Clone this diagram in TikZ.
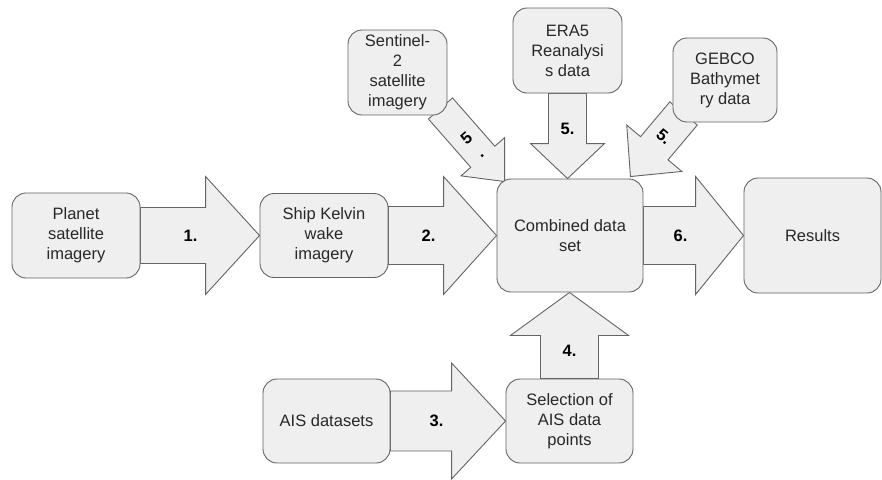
\documentclass[tikz,border=0pt]{standalone}
\usepackage{fontspec}
\setmainfont{Liberation Sans}
\usepackage{tikz}
\usetikzlibrary{calc, backgrounds}
\definecolor{boxfill}{RGB}{239,239,239}
\definecolor{boxline}{RGB}{100,100,100}
\definecolor{boxtext}{RGB}{40,40,40}

% block arrow: label name, from, to, shaft half, head half, head length, label, label options
\newcommand{\blockarrow}[8]{%
  \coordinate (hb) at ($(#3)!#6!(#2)$);
  \draw[flowarrow] ($(#2)!#4!90:(#3)$) -- ($(hb)!#4!-90:(#2)$) -- ($(hb)!#5!-90:(#2)$)
    -- (#3) -- ($(hb)!#5!90:(#2)$) -- ($(hb)!#4!90:(#2)$) -- ($(#2)!#4!-90:(#3)$) -- cycle;
  \node[steplabel, #8] (#1) at ($(hb)!15pt!(#2)$) {#7};}

\begin{document}
\begin{tikzpicture}[x=1pt, y=-1pt,
    databox/.style={draw=boxline, fill=boxfill, line width=0.9pt, rounded corners=14pt,
      align=center, text=boxtext, inner sep=0pt, font=\fontsize{16.5}{20}\selectfont},
    flowarrow/.style={draw=boxline, fill=boxfill, line width=0.9pt, line join=miter},
    steplabel/.style={font=\fontsize{16.5}{20}\selectfont\bfseries, align=center, inner sep=0pt}]
  \useasboundingbox (0,0) rectangle (882,479);

  % Sources and results
  \node[databox, minimum width=128pt, minimum height=85pt] (planet) at (76,235.5)
    {Planet\\satellite\\imagery};
  \node[databox, minimum width=128pt, minimum height=84pt] (ship) at (324,235.5)
    {Ship Kelvin\\wake\\imagery};
  \node[databox, minimum width=146pt, minimum height=113pt] (comb) at (570,235.5)
    {Combined data\\set};
  \node[databox, minimum width=137pt, minimum height=115pt] (results) at (812.5,235.5)
    {Results};
  \node[databox, minimum width=127pt, minimum height=84pt] (ais) at (326.5,421)
    {AIS datasets};
  \node[databox, minimum width=127pt, minimum height=84pt] (sel) at (569.5,421)
    {Selection of\\AIS data\\points};

  % Extra data
  \node[databox, minimum width=99pt, minimum height=85pt] (sent) at (397.5,72.5)
    {Sentinel-\\2\\satellite\\imagery};
  \node[databox, minimum width=109pt, minimum height=85pt] (era) at (567.5,50.5)
    {ERA5\\Reanalysi\\s data};
  \node[databox, minimum width=104pt, minimum height=84pt] (gebco) at (725,80)
    {GEBCO\\Bathymet\\ry data};

  % Steps
  \begin{scope}[on background layer]
    \blockarrow{s1}{planet.east}{ship.west}{28pt}{59pt}{54pt}{1.}{}
    \blockarrow{s2}{ship.east}{comb.west}{29pt}{59pt}{53pt}{2.}{}
    \blockarrow{s3}{ais.east}{sel.west}{30pt}{58pt}{54pt}{3.}{}
    \blockarrow{s4}{sel.north}{sel.north |- comb.south}{29pt}{59pt}{43pt}{4.}{}
    \blockarrow{s5b}{era.south}{era.south |- comb.north}{19pt}{37pt}{35pt}{5.}{}
    \coordinate (sentout) at ($(sent.south east)+(-7,-7)$);
    \coordinate (sentin) at ($(comb.north west)+(8,3)$);
    \blockarrow{s5a}{sentout}{sentin}{16pt}{29pt}{33pt}{5\\.}{rotate=41}
    \coordinate (gebout) at ($(gebco.south west)+(11,-9)$);
    \coordinate (gebin) at ($(comb.north east)+(-13,-2)$);
    \blockarrow{s5c}{gebout}{gebin}{18pt}{36pt}{37pt}{5.}{rotate=-40}
    \blockarrow{s6}{comb.east}{results.west}{29pt}{59pt}{48pt}{6.}{}
  \end{scope}
\end{tikzpicture}
\end{document}
